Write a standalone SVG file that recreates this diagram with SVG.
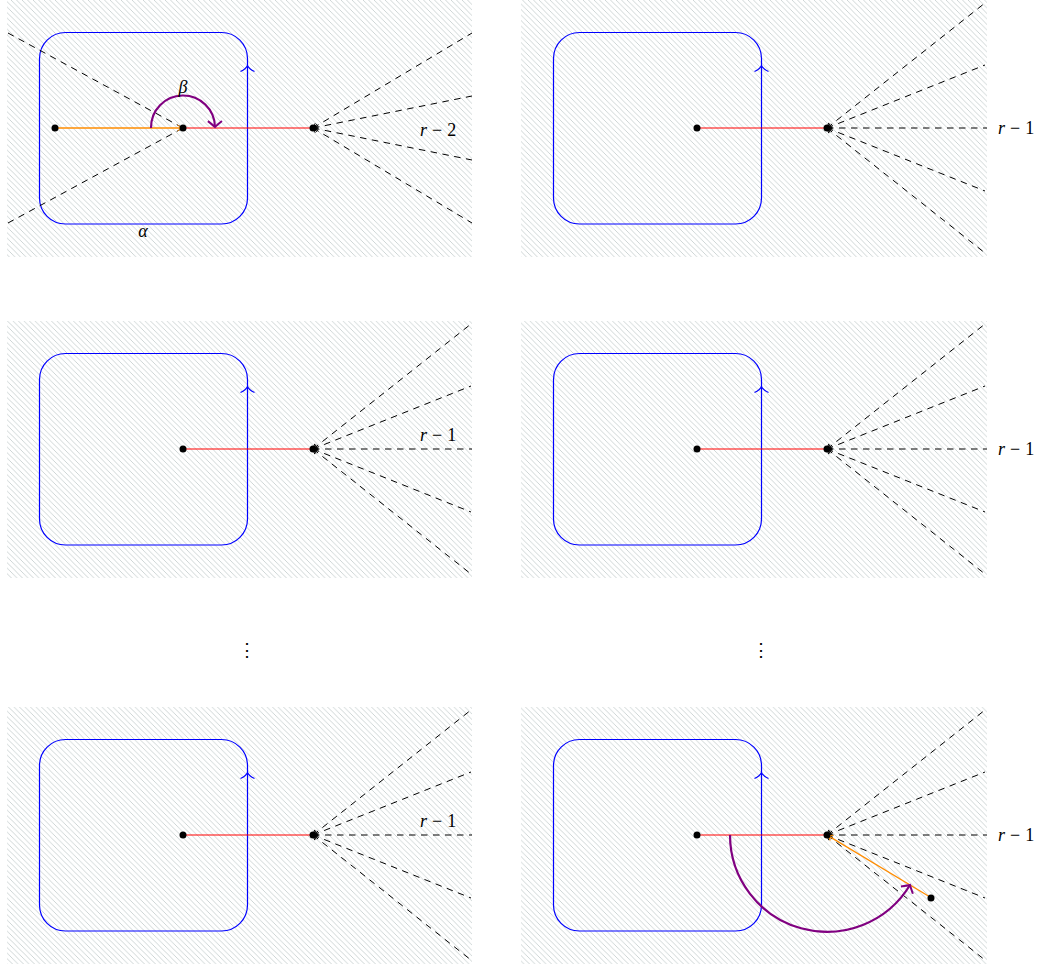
<svg xmlns="http://www.w3.org/2000/svg" width="1044" height="969" viewBox="0 0 1044 969">
<style>
.panel{fill:url(#hatch);stroke:none}
.box{fill:none;stroke:#0000ff;stroke-width:1.2}
.barrow{fill:none;stroke:#0000ff;stroke-width:1.1}
.red{stroke:#ff0000;stroke-width:1.1;fill:none}
.orange{stroke:#ff8c00;stroke-width:1.3;fill:none}
.dash{stroke:#000;stroke-width:1;stroke-dasharray:6.5,5.5;fill:none}
.purple{stroke:#800080;stroke-width:2.2;fill:none}
.dot{fill:#000}
.lbl{font-family:"Liberation Serif","Times New Roman",serif;font-size:18px;fill:#000}
.it{font-style:italic}
</style>
<defs>
<pattern id="hatch" width="5.5" height="5.5" patternUnits="userSpaceOnUse">
<path d="M-1,-1 L6.5,6.5 M-1,4.5 L1,6.5 M4.5,-1 L6.5,1" stroke="#c6cece" stroke-width="0.85" fill="none"/>
</pattern>
<marker id="tip" markerUnits="userSpaceOnUse" viewBox="-6 -4 8 8" markerWidth="8" markerHeight="8" refX="0" refY="0" orient="auto-start-reverse" overflow="visible">
<path d="M-4.5,-3 Q-1.2,-0.6 0,0 Q-1.2,0.6 -4.5,3" fill="none" stroke="#000" stroke-width="0.9"/>
</marker>
<marker id="otip" markerUnits="userSpaceOnUse" viewBox="-6 -4 8 8" markerWidth="8" markerHeight="8" refX="0" refY="0" orient="auto" overflow="visible">
<path d="M-4.5,-3 Q-1.2,-0.6 0,0 Q-1.2,0.6 -4.5,3" fill="none" stroke="#ff8c00" stroke-width="1"/>
</marker>
<marker id="ptip" markerUnits="userSpaceOnUse" viewBox="-10 -8 12 16" markerWidth="12" markerHeight="16" refX="0" refY="0" orient="auto" overflow="visible">
<path d="M-6,-7 Q-1.5,-1.5 0,0 Q-1.5,1.5 -6,7" fill="none" stroke="#800080" stroke-width="2"/>
</marker>
</defs>

<!-- hatched panels -->
<g id="panels">
<rect class="panel" x="7" y="0" width="465" height="257"/>
<rect class="panel" x="521" y="0" width="466" height="257"/>
<rect class="panel" x="7" y="321" width="465" height="257"/>
<rect class="panel" x="521" y="321" width="466" height="257"/>
<rect class="panel" x="7" y="707" width="465" height="257"/>
<rect class="panel" x="521" y="707" width="466" height="257"/>
</g>

<!-- blue loops -->
<g id="loops">
<rect class="box" x="39.5" y="32.5" width="208" height="191.5" rx="26"/>
<path class="barrow" d="M240.5,71.5 Q246,69 247.5,65.5 Q249,69 254.5,71.5"/>
<rect class="box" x="553.5" y="32.5" width="208" height="191.5" rx="26"/>
<path class="barrow" d="M754.5,71.5 Q760,69 761.5,65.5 Q763,69 768.5,71.5"/>
<rect class="box" x="39.5" y="353.5" width="208" height="191.5" rx="26"/>
<path class="barrow" d="M240.5,392.5 Q246,390 247.5,386.5 Q249,390 254.5,392.5"/>
<rect class="box" x="553.5" y="353.5" width="208" height="191.5" rx="26"/>
<path class="barrow" d="M754.5,392.5 Q760,390 761.5,386.5 Q763,390 768.5,392.5"/>
<rect class="box" x="39.5" y="739.5" width="208" height="191.5" rx="26"/>
<path class="barrow" d="M240.5,778.5 Q246,776 247.5,772.5 Q249,776 254.5,778.5"/>
<rect class="box" x="553.5" y="739.5" width="208" height="191.5" rx="26"/>
<path class="barrow" d="M754.5,778.5 Q760,776 761.5,772.5 Q763,776 768.5,778.5"/>
</g>

<!-- connectors -->
<g id="connectors">
<!-- panel 1 -->
<line class="dash" x1="8" y1="33" x2="183" y2="128"/>
<line class="dash" x1="8" y1="223" x2="183" y2="128"/>
<line class="orange" x1="55" y1="128" x2="182" y2="128" marker-end="url(#otip)"/>
<line class="red" x1="183" y1="128" x2="313" y2="128"/>
<line class="dash" x1="313" y1="128" x2="472" y2="33" marker-start="url(#tip)"/>
<line class="dash" x1="313" y1="128" x2="472" y2="96" marker-start="url(#tip)"/>
<line class="dash" x1="313" y1="128" x2="472" y2="160" marker-start="url(#tip)"/>
<line class="dash" x1="313" y1="128" x2="472" y2="223" marker-start="url(#tip)"/>
<path class="purple" d="M151,128 A32,32 0 0 1 215,127" marker-end="url(#ptip)"/>

<!-- panel 2 -->
<line class="red" x1="697" y1="128" x2="827" y2="128"/>
<line class="dash" x1="827" y1="128" x2="985" y2="3" marker-start="url(#tip)"/>
<line class="dash" x1="827" y1="128" x2="985" y2="65" marker-start="url(#tip)"/>
<line class="dash" x1="827" y1="128" x2="987" y2="128" marker-start="url(#tip)"/>
<line class="dash" x1="827" y1="128" x2="985" y2="191" marker-start="url(#tip)"/>
<line class="dash" x1="827" y1="128" x2="985" y2="253" marker-start="url(#tip)"/>

<!-- panel 3 -->
<line class="red" x1="183" y1="449" x2="313" y2="449"/>
<line class="dash" x1="313" y1="449" x2="471" y2="324" marker-start="url(#tip)"/>
<line class="dash" x1="313" y1="449" x2="471" y2="386" marker-start="url(#tip)"/>
<line class="dash" x1="313" y1="449" x2="472" y2="449" marker-start="url(#tip)"/>
<line class="dash" x1="313" y1="449" x2="471" y2="512" marker-start="url(#tip)"/>
<line class="dash" x1="313" y1="449" x2="471" y2="574" marker-start="url(#tip)"/>

<!-- panel 4 -->
<line class="red" x1="697" y1="449" x2="827" y2="449"/>
<line class="dash" x1="827" y1="449" x2="985" y2="324" marker-start="url(#tip)"/>
<line class="dash" x1="827" y1="449" x2="985" y2="386" marker-start="url(#tip)"/>
<line class="dash" x1="827" y1="449" x2="987" y2="449" marker-start="url(#tip)"/>
<line class="dash" x1="827" y1="449" x2="985" y2="512" marker-start="url(#tip)"/>
<line class="dash" x1="827" y1="449" x2="985" y2="574" marker-start="url(#tip)"/>

<!-- panel 5 -->
<line class="red" x1="183" y1="835" x2="313" y2="835"/>
<line class="dash" x1="313" y1="835" x2="471" y2="710" marker-start="url(#tip)"/>
<line class="dash" x1="313" y1="835" x2="471" y2="772" marker-start="url(#tip)"/>
<line class="dash" x1="313" y1="835" x2="472" y2="835" marker-start="url(#tip)"/>
<line class="dash" x1="313" y1="835" x2="471" y2="898" marker-start="url(#tip)"/>
<line class="dash" x1="313" y1="835" x2="471" y2="960" marker-start="url(#tip)"/>

<!-- panel 6 -->
<line class="red" x1="697" y1="835" x2="827" y2="835"/>
<line class="dash" x1="827" y1="835" x2="985" y2="710" marker-start="url(#tip)"/>
<line class="dash" x1="827" y1="835" x2="985" y2="772" marker-start="url(#tip)"/>
<line class="dash" x1="827" y1="835" x2="987" y2="835" marker-start="url(#tip)"/>
<line class="dash" x1="827" y1="835" x2="985" y2="898" marker-start="url(#tip)"/>
<line class="dash" x1="827" y1="835" x2="985" y2="960" marker-start="url(#tip)"/>
<line class="orange" x1="930" y1="897" x2="828" y2="835.6" marker-end="url(#otip)"/>
<path class="purple" d="M730,835 A97,97 0 0 0 910,885" marker-end="url(#ptip)"/>
</g>

<!-- nodes -->
<g id="n1-left"><circle class="dot" cx="55" cy="128" r="3.5"/></g>
<g id="n1-mid"><circle class="dot" cx="183" cy="128" r="3.5"/></g>
<g id="n1-right"><circle class="dot" cx="313" cy="128" r="3.5"/></g>
<g id="n2-mid"><circle class="dot" cx="697" cy="128" r="3.5"/></g>
<g id="n2-right"><circle class="dot" cx="827" cy="128" r="3.5"/></g>
<g id="n3-mid"><circle class="dot" cx="183" cy="449" r="3.5"/></g>
<g id="n3-right"><circle class="dot" cx="313" cy="449" r="3.5"/></g>
<g id="n4-mid"><circle class="dot" cx="697" cy="449" r="3.5"/></g>
<g id="n4-right"><circle class="dot" cx="827" cy="449" r="3.5"/></g>
<g id="n5-mid"><circle class="dot" cx="183" cy="835" r="3.5"/></g>
<g id="n5-right"><circle class="dot" cx="313" cy="835" r="3.5"/></g>
<g id="n6-mid"><circle class="dot" cx="697" cy="835" r="3.5"/></g>
<g id="n6-right"><circle class="dot" cx="827" cy="835" r="3.5"/></g>
<g id="n6-out"><circle class="dot" cx="931" cy="898" r="3.5"/></g>

<!-- labels -->
<g id="labels">
<text class="lbl it" x="183" y="93" text-anchor="middle">β</text>
<text class="lbl it" x="143" y="237" text-anchor="middle">α</text>
<text class="lbl" x="420" y="136"><tspan class="it">r</tspan><tspan dx="5">−</tspan><tspan dx="5">2</tspan></text>
<text class="lbl" x="998" y="134"><tspan class="it">r</tspan><tspan dx="5">−</tspan><tspan dx="5">1</tspan></text>
<text class="lbl" x="420" y="441"><tspan class="it">r</tspan><tspan dx="5">−</tspan><tspan dx="5">1</tspan></text>
<text class="lbl" x="998" y="455"><tspan class="it">r</tspan><tspan dx="5">−</tspan><tspan dx="5">1</tspan></text>
<text class="lbl" x="420" y="827"><tspan class="it">r</tspan><tspan dx="5">−</tspan><tspan dx="5">1</tspan></text>
<text class="lbl" x="998" y="841"><tspan class="it">r</tspan><tspan dx="5">−</tspan><tspan dx="5">1</tspan></text>
<text x="247" y="656" text-anchor="middle" style="font-family:'DejaVu Serif',serif;font-size:18px">⋮</text>
<text x="761" y="656" text-anchor="middle" style="font-family:'DejaVu Serif',serif;font-size:18px">⋮</text>
</g>
</svg>
